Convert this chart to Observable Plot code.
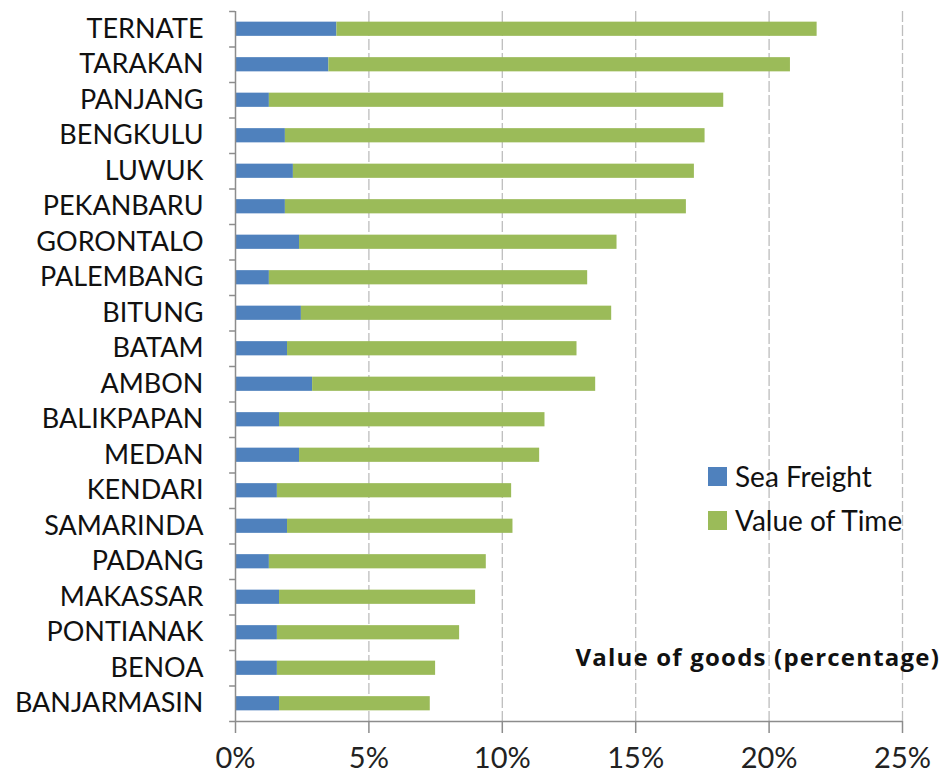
<!DOCTYPE html>
<html>
<head>
<meta charset="utf-8">
<script src="https://cdn.jsdelivr.net/npm/d3@7"></script>
<script src="https://cdn.jsdelivr.net/npm/@observablehq/plot@0.6"></script>
<style>
  html, body { margin: 0; padding: 0; background: #fff; }
  #wrap { position: relative; width: 944px; height: 779px; font-family: Lato, "Noto Sans", sans-serif; }
  .legend { position: absolute; left: 708px; font-size: 28px; color: #111; display: flex; align-items: center; line-height: 1; }
  .legend .sw { width: 19px; height: 19px; margin-right: 8px; }
  .xlabel { position: absolute; right: 4px; top: 643px; font-family: "Open Sans", Lato, sans-serif; font-size: 24px; letter-spacing: 1.2px; font-weight: bold; color: #111; white-space: nowrap; line-height: 1.2; }
</style>
</head>
<body>
<div id="wrap"></div>
<script>
const ports = ["TERNATE","TARAKAN","PANJANG","BENGKULU","LUWUK","PEKANBARU","GORONTALO","PALEMBANG","BITUNG","BATAM","AMBON","BALIKPAPAN","MEDAN","KENDARI","SAMARINDA","PADANG","MAKASSAR","PONTIANAK","BENOA","BANJARMASIN"];
const seaFreight = [3.8, 3.5, 1.27, 1.87, 2.17, 1.87, 2.4, 1.27, 2.47, 1.95, 2.89, 1.65, 2.4, 1.57, 1.95, 1.27, 1.65, 1.57, 1.57, 1.65];
const totalCost  = [21.8, 20.8, 18.3, 17.6, 17.2, 16.9, 14.3, 13.2, 14.1, 12.8, 13.5, 11.6, 11.4, 10.35, 10.4, 9.4, 9.0, 8.4, 7.5, 7.3];
const valueOfTime = totalCost.map((t, i) => +(t - seaFreight[i]).toFixed(2));
const seriesNames = ["Sea Freight", "Value of Time"];
const seriesColors = ["#4F81BD", "#9BBB59"];
const xTicks = [0, 0.05, 0.10, 0.15, 0.20, 0.25];

const data = [];
ports.forEach((p, i) => {
  data.push({port: p, series: seriesNames[0], value: seaFreight[i] / 100});
  data.push({port: p, series: seriesNames[1], value: valueOfTime[i] / 100});
});

const W = 944, H = 779, mTop = 11, mBottom = 58;
const step = (H - mTop - mBottom) / ports.length;
const axisGray = "#8c8c8c";

const chart = Plot.plot({
  width: W,
  height: H,
  marginLeft: 235,
  marginRight: 42,
  marginTop: mTop,
  marginBottom: mBottom,
  style: {fontFamily: "Lato, 'Noto Sans', sans-serif", color: "#111", background: "#fff"},
  x: {domain: [0, 0.25], ticks: xTicks},
  y: {domain: ports, paddingInner: 0.6, paddingOuter: 0.3, round: false, label: null},
  color: {domain: seriesNames, range: seriesColors},
  marks: [
    Plot.gridX(xTicks.slice(1), {stroke: "#bdbdbd", strokeOpacity: 1, strokeDasharray: "11,3", strokeWidth: 1.3}),
    Plot.barX(data, {x: "value", y: "port", fill: "series"}),
    Plot.ruleX([0], {stroke: axisGray, strokeWidth: 1.5}),
    Plot.ruleY(ports, {y: d => d, dy: -step / 2, x1: -0.0022, x2: 0, stroke: axisGray, strokeWidth: 1.5}),
    Plot.ruleY([ports[ports.length - 1]], {y: d => d, dy: step / 2, x1: -0.0022, x2: 0.25, stroke: axisGray, strokeWidth: 1.5}),
    Plot.axisY({tickSize: 0, tickPadding: 32, fontSize: 27, label: null, fill: "#111"}),
    Plot.axisX(xTicks, {tickSize: 12, tickPadding: 14, stroke: axisGray, strokeWidth: 1.5, fontSize: 29, tickFormat: d3.format(".0%"), label: null, fill: "#222"})
  ]
});

const wrap = document.getElementById("wrap");
wrap.appendChild(chart);

const legTops = [462, 506];
seriesNames.forEach((name, i) => {
  const el = document.createElement("div");
  el.className = "legend";
  el.style.top = legTops[i] + "px";
  el.innerHTML = `<span class="sw" style="background:${seriesColors[i]}"></span><span>${name}</span>`;
  wrap.appendChild(el);
});
const xl = document.createElement("div");
xl.className = "xlabel";
xl.textContent = "Value of goods (percentage)";
wrap.appendChild(xl);
</script>
</body>
</html>
